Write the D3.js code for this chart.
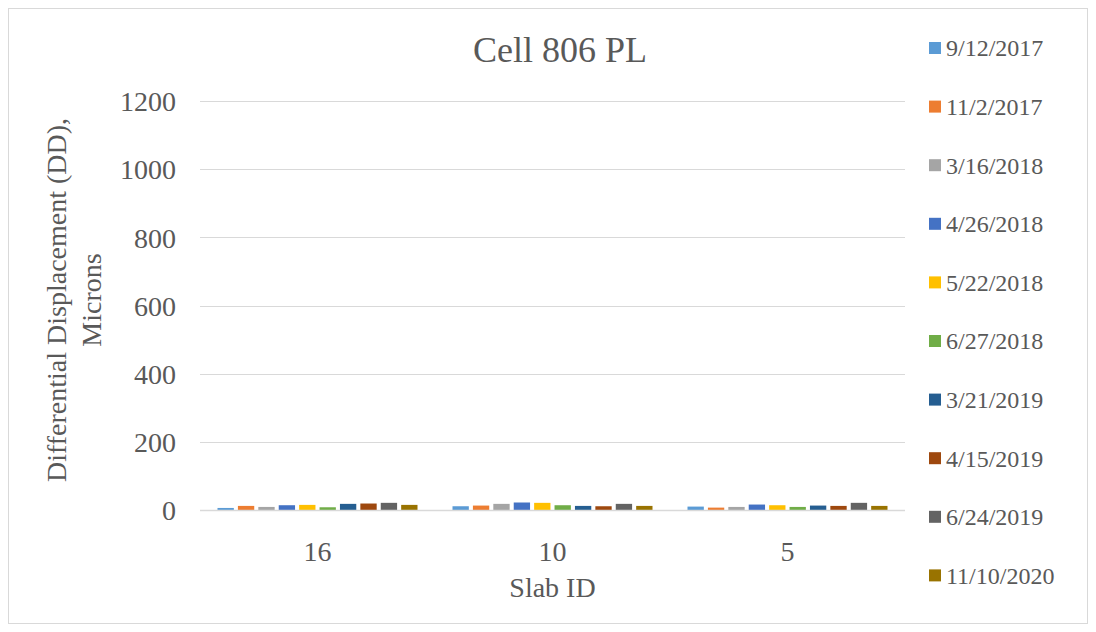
<!DOCTYPE html>
<html>
<head>
<meta charset="utf-8">
<script src="https://cdn.jsdelivr.net/npm/d3@7"></script>
<style>
  html, body { margin: 0; padding: 0; background: #fff; }
  svg { display: block; font-family: "Liberation Serif", "Times New Roman", serif; }
</style>
</head>
<body>
<svg id="chart" width="1096" height="632"></svg>
<script>
// Slab IDs along the x axis
const categories = ["16", "10", "5"];
// Survey dates (one series each)
const seriesNames = ["9/12/2017", "11/2/2017", "3/16/2018", "4/26/2018", "5/22/2018",
  "6/27/2018", "3/21/2019", "4/15/2019", "6/24/2019", "11/10/2020"];
const seriesColors = ["#5b9bd5", "#ed7d31", "#a5a5a5", "#4472c4", "#ffc000",
  "#70ad47", "#255e91", "#9e480e", "#636363", "#997300"];
// Differential displacement (microns) per slab, one array per survey date
const s_20170912 = [6, 11, 10];
const s_20171102 = [12, 13, 7];
const s_20180316 = [9, 18, 9];
const s_20180426 = [14, 22, 16];
const s_20180522 = [15, 21, 14];
const s_20180627 = [8, 14, 9];
const s_20190321 = [18, 12, 13];
const s_20190415 = [19, 11, 12];
const s_20190624 = [21, 18, 21];
const s_20201110 = [15, 12, 12];
const seriesValues = [s_20170912, s_20171102, s_20180316, s_20180426, s_20180522,
  s_20180627, s_20190321, s_20190415, s_20190624, s_20201110];
const yTicks = [0, 200, 400, 600, 800, 1000, 1200];

const svg = d3.select("#chart");
const textColor = "#595959";

// chart frame
svg.append("rect").attr("x", 8.5).attr("y", 8.5).attr("width", 1079).attr("height", 615)
  .attr("fill", "#fff").attr("stroke", "#d9d9d9").attr("stroke-width", 1);

const plot = { left: 200, right: 905, top: 101, bottom: 510 };

const x = d3.scaleBand().domain(categories).range([plot.left, plot.right]).paddingInner(0).paddingOuter(0);
const y = d3.scaleLinear().domain([0, 1200]).range([plot.bottom, plot.top]);

// horizontal gridlines
svg.append("g").selectAll("line").data(yTicks.filter(d => d > 0)).join("line")
  .attr("x1", plot.left).attr("x2", plot.right)
  .attr("y1", d => Math.round(y(d)) + 0.5).attr("y2", d => Math.round(y(d)) + 0.5)
  .attr("stroke", "#d9d9d9").attr("stroke-width", 1);

// clustered bars
const clusterPad = 17.5;
const x1 = d3.scaleBand().domain(d3.range(seriesNames.length))
  .range([clusterPad, x.bandwidth() - clusterPad]).paddingInner(0.2);

const groups = svg.append("g").selectAll("g").data(categories).join("g")
  .attr("transform", d => `translate(${x(d)},0)`);
groups.selectAll("rect").data((c, ci) => seriesValues.map((vals, si) => ({ si, v: vals[ci] })))
  .join("rect")
  .attr("x", d => x1(d.si))
  .attr("width", x1.bandwidth())
  .attr("y", d => y(d.v))
  .attr("height", d => y(0) - y(d.v))
  .attr("fill", d => seriesColors[d.si]);

// x axis baseline
svg.append("line").attr("x1", plot.left).attr("x2", plot.right)
  .attr("y1", plot.bottom + 0.5).attr("y2", plot.bottom + 0.5)
  .attr("stroke", "#d9d9d9").attr("stroke-width", 1.5);

// y axis labels
const yAxis = d3.axisLeft(y).tickValues(yTicks).tickFormat(d3.format("d")).tickSize(0).tickPadding(0);
const gy = svg.append("g").attr("transform", `translate(176,0)`).call(yAxis);
gy.select(".domain").remove();
gy.selectAll("text").attr("font-size", 28).attr("fill", textColor)
  .attr("font-family", "Liberation Serif, Times New Roman, serif").attr("dy", "0.35em");

// x axis labels
const xAxis = d3.axisBottom(x).tickSize(0).tickPadding(0);
const gx = svg.append("g").attr("transform", `translate(0,${plot.bottom})`).call(xAxis);
gx.select(".domain").remove();
gx.selectAll("text").attr("font-size", 28).attr("fill", textColor)
  .attr("font-family", "Liberation Serif, Times New Roman, serif").attr("y", 51).attr("dy", 0);

// title
svg.append("text").attr("x", 560).attr("y", 62).attr("text-anchor", "middle")
  .attr("font-size", 36).attr("fill", textColor).text("Cell 806 PL");

// axis titles
svg.append("text").attr("x", (plot.left + plot.right) / 2).attr("y", 597).attr("text-anchor", "middle")
  .attr("font-size", 28).attr("fill", textColor).text("Slab ID");

const yt = svg.append("text").attr("transform", `translate(0,300) rotate(-90)`)
  .attr("text-anchor", "middle").attr("font-size", 28).attr("fill", textColor);
yt.append("tspan").attr("x", 0).attr("y", 66).text("Differential Displacement (DD),");
yt.append("tspan").attr("x", 0).attr("y", 101).text("Microns");

// legend
const legend = svg.append("g").selectAll("g").data(seriesNames).join("g")
  .attr("transform", (d, i) => `translate(929,${48 + i * 58.6})`);
legend.append("rect").attr("x", 0).attr("y", -6).attr("width", 12).attr("height", 12)
  .attr("fill", (d, i) => seriesColors[i]);
legend.append("text").attr("x", 17).attr("y", 0).attr("dy", "0.35em")
  .attr("font-size", 24).attr("fill", textColor).text(d => d);
</script>
</body>
</html>
